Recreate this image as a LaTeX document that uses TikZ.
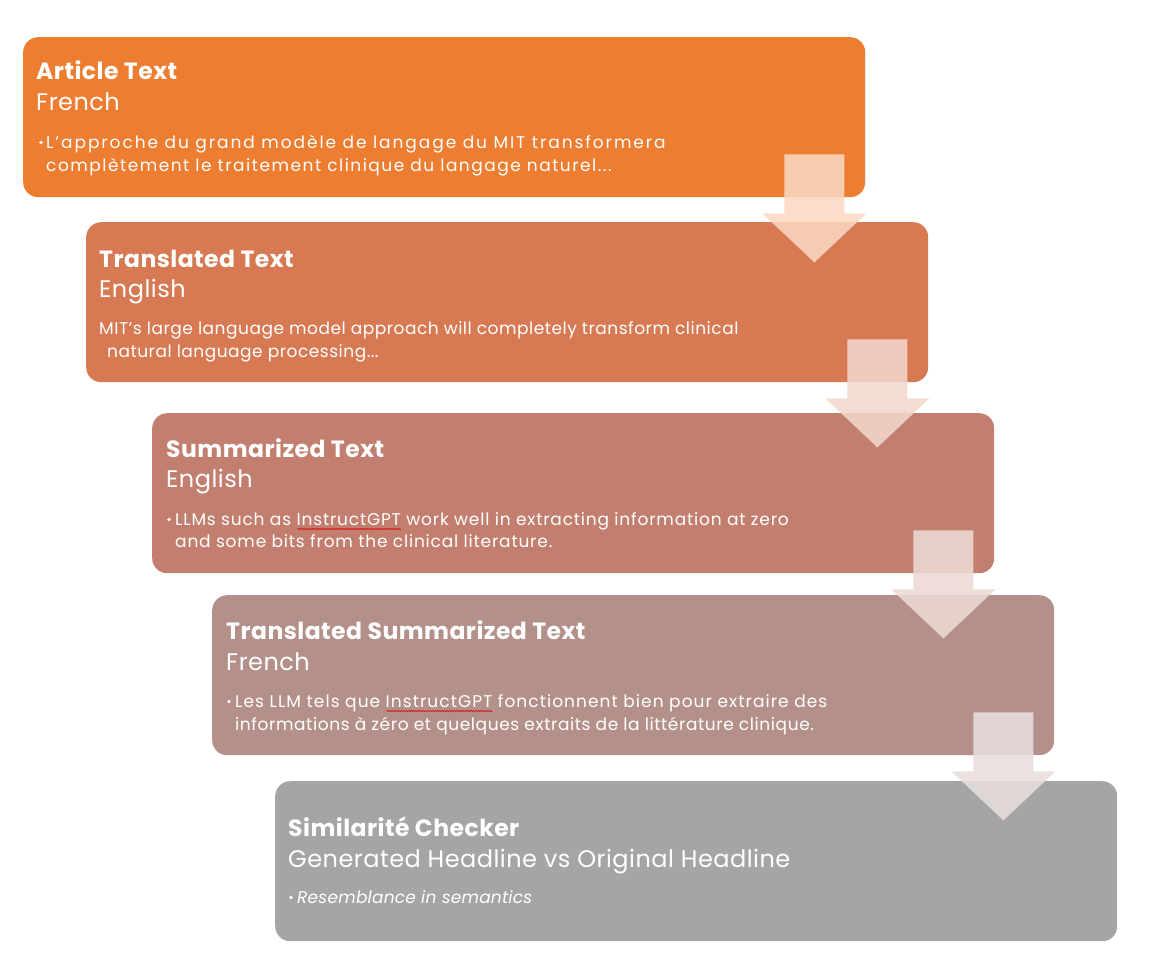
\documentclass[tikz,border=0pt]{standalone}
\usepackage{fontspec}
\setmainfont{Poppins}
\usetikzlibrary{decorations.pathmorphing}

\definecolor{stageA}{HTML}{ED7D31}
\definecolor{stageB}{HTML}{D77A54}
\definecolor{stageC}{HTML}{C27F6F}
\definecolor{stageD}{HTML}{B3918A}
\definecolor{stageE}{HTML}{A5A5A5}

\tikzset{
  stage/.style={rectangle, rounded corners=15pt, minimum width=842pt,
    minimum height=160pt, inner sep=0pt, anchor=north west, fill=#1, draw=none},
  headline/.style={anchor=base west, inner sep=0pt, text=white,
    font=\bfseries\fontsize{23.5}{28}\selectfont\addfontfeatures{LetterSpace=2}},
  subline/.style={anchor=base west, inner sep=0pt, text=white,
    font=\fontsize{24}{28}\selectfont\addfontfeatures{LetterSpace=2}},
  bodyline/.style={anchor=base west, inner sep=0pt, text=white,
    font=\fontsize{17}{24}\selectfont\addfontfeatures{LetterSpace=#1}},
  bodyline/.default=0,
  bodyitalic/.style={anchor=base west, inner sep=0pt, text=white,
    font=\itshape\fontsize{17}{24}\selectfont\addfontfeatures{LetterSpace=#1}},
  bodyitalic/.default=0,
  bulletdot/.style={circle, fill=white, inner sep=0pt, minimum size=3.6pt},
  stagearrowfill/.style={fill=#1!30!white, fill opacity=0.88, draw=none},
  spellwave/.style={draw=red!85!black, line width=0.5pt, decorate,
    decoration={snake, amplitude=0.7pt, segment length=2.4pt}},
}

% block arrow hanging from the lower right of one stage into the next
\newcommand\stagearrow[2]{%
  \path[stagearrowfill=#2] ([shift={(-81,-43)}]#1.south east)
    -- ++(60,0) -- ++(0,59) -- ++(22,0) -- ++(-52,49) -- ++(-52,-49)
    -- ++(22,0) -- cycle;}

\begin{document}
\begin{tikzpicture}[x=1pt, y=-1pt]
\useasboundingbox (0,0) rectangle (1165,978);

% stage boxes
\node[stage=stageA] (b1) at (23,37) {};
\node[stage=stageB] (b2) at (86,222) {};
\node[stage=stageC] (b3) at (152,413) {};
\node[stage=stageD] (b4) at (212,595) {};
\node[stage=stageE] (b5) at (275,781) {};

% stage 1
\node[headline] (t1) at ([shift={(13,42)}]b1.north west) {Article Text};
\node[subline]  (s1) at ([shift={(13,73)}]b1.north west) {French};
\node[bulletdot] (d1) at ([shift={(18,105.5)}]b1.north west) {};
\node[bodyline=11.4] (p1a) at ([shift={(23,111)}]b1.north west)
  {L'approche du grand modèle de langage du MIT transformera};
\node[bodyline=8.8] (p1b) at ([shift={(23,134)}]b1.north west)
  {complètement le traitement clinique du langage naturel...};

% stage 2
\node[headline] (t2) at ([shift={(13,45)}]b2.north west) {Translated Text};
\node[subline]  (s2) at ([shift={(13,75)}]b2.north west) {English};
\node[bodyline=3] (p2a) at ([shift={(13,112)}]b2.north west)
  {MIT’s large language model approach will completely transform clinical};
\node[bodyline=3] (p2b) at ([shift={(21,135)}]b2.north west)
  {natural language processing...};

% stage 3
\node[headline] (t3) at ([shift={(14,44)}]b3.north west) {Summarized Text};
\node[subline]  (s3) at ([shift={(14,74)}]b3.north west) {English};
\node[bulletdot] (d3) at ([shift={(17,106.5)}]b3.north west) {};
\node[bodyline=4.8] (p3a) at ([shift={(23,112)}]b3.north west) {LLMs such as};
\node[bodyline=4.8] (w3) at (p3a.base east) {\kern0.3em InstructGPT};
\node[bodyline=4.8] (p3c) at (w3.base east)
  {\kern0.3em work well in extracting information at zero};
\node[bodyline=4.8] (p3b) at ([shift={(23,134)}]b3.north west)
  {and some bits from the clinical literature.};
\draw[spellwave] ([shift={(6,4)}]w3.base west) -- ([shift={(0,4)}]w3.base east);

% stage 4
\node[headline] (t4) at ([shift={(14,44)}]b4.north west) {Translated Summarized Text};
\node[subline]  (s4) at ([shift={(14,75)}]b4.north west) {French};
\node[bulletdot] (d4) at ([shift={(17,106.5)}]b4.north west) {};
\node[bodyline=6.2] (p4a) at ([shift={(23,112)}]b4.north west) {Les LLM tels que};
\node[bodyline=6.2] (w4) at (p4a.base east) {\kern0.3em InstructGPT};
\node[bodyline=6.2] (p4c) at (w4.base east)
  {\kern0.3em fonctionnent bien pour extraire des};
\node[bodyline=3.5] (p4b) at ([shift={(23,135)}]b4.north west)
  {informations à zéro et quelques extraits de la littérature clinique.};
\draw[spellwave] ([shift={(6,4)}]w4.base west) -- ([shift={(0,4)}]w4.base east);

% stage 5
\node[headline] (t5) at ([shift={(13,55)}]b5.north west) {Similarité Checker};
\node[subline]  (s5) at ([shift={(13,86)}]b5.north west) {Generated Headline vs Original Headline};
\node[bulletdot] (d5) at ([shift={(16,116.5)}]b5.north west) {};
\node[bodyitalic=1.2] (p5a)
  at ([shift={(22,122)}]b5.north west) {Resemblance in semantics};

% arrows between stages
\stagearrow{b1}{stageA}
\stagearrow{b2}{stageB}
\stagearrow{b3}{stageC}
\stagearrow{b4}{stageD}
\end{tikzpicture}
\end{document}
